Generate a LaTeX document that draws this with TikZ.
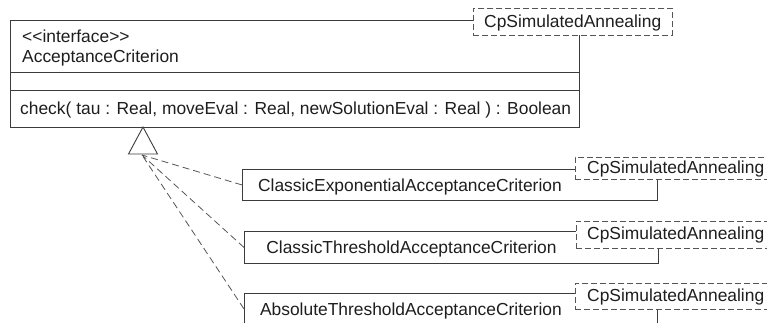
\documentclass[tikz,border=0pt]{standalone}
\usepackage{fontspec}
\setmainfont{Liberation Sans}
\usetikzlibrary{calc}
\definecolor{linegray}{HTML}{3C3C3C}
\definecolor{dashgray}{HTML}{555555}
\definecolor{inkgray}{HTML}{1E1E1E}
\begin{document}
\begin{tikzpicture}[x=1pt,y=-1pt,
  every node/.style={font=\fontsize{17.4}{20}\selectfont, text=inkgray, inner sep=0pt},
  umlbox/.style={draw=linegray, line width=0.9pt, fill=white, anchor=north west},
  pkgtag/.style={draw=dashgray, line width=0.9pt, dash pattern=on 6pt off 3pt, fill=white, anchor=north west},
  realize/.style={draw=dashgray, line width=0.8pt, dash pattern=on 7pt off 4pt},
  genhead/.style={draw=linegray, line width=0.9pt, fill=white}]
\useasboundingbox (0,0) rectangle (767,322);
\begin{scope}
\clip (0,0) rectangle (767,322);

% interface with its three compartments
\node[umlbox, minimum width=569pt, minimum height=107pt] (iface) at (10,20) {};
\draw[linegray, line width=0.9pt] ($(iface.north west)+(0,52)$) coordinate (s1) -- (s1 -| iface.east);
\draw[linegray, line width=0.9pt] ($(iface.north west)+(0,70)$) coordinate (s2) -- (s2 -| iface.east);
\node[anchor=base west] (stereo) at (22,42) {<\kern0pt<interface>\kern0pt>};
\node[anchor=base west] (iname) at (22,62) {AcceptanceCriterion};
\node[anchor=base west] (op) at (20,114) {check( tau : Real, moveEval : Real, newSolutionEval : Real ) : Boolean};
\node[pkgtag, minimum width=199pt, minimum height=27pt] (tag0) at (473,8) {};
\node (tag0t) at ($(tag0.west)+(11,1)$) [anchor=west] {CpSimulatedAnnealing};

% implementing classes
\node[umlbox, minimum width=415pt, minimum height=31pt] (c1) at (242,169) {};
\node (c1t) at ($(c1.center)+(-40,2)$) {ClassicExponentialAcceptanceCriterion};
\node[pkgtag, minimum width=205pt, minimum height=22pt] (tag1) at (575,157) {};
\node (tag1t) at ($(tag1.west)+(12,0.5)$) [anchor=west] {CpSimulatedAnnealing};

\node[umlbox, minimum width=414pt, minimum height=32pt] (c2) at (244,231) {};
\node (c2t) at ($(c2.center)+(-40,2)$) {ClassicThresholdAcceptanceCriterion};
\node[pkgtag, minimum width=205pt, minimum height=27pt] (tag2) at (576,221) {};
\node (tag2t) at ($(tag2.west)+(11,0.5)$) [anchor=west] {CpSimulatedAnnealing};

\node[umlbox, minimum width=413pt, minimum height=31pt] (c3) at (244,293) {};
\node (c3t) at ($(c3.center)+(-40,2)$) {AbsoluteThresholdAcceptanceCriterion};
\node[pkgtag, minimum width=205pt, minimum height=26pt] (tag3) at (575,283) {};
\node (tag3t) at ($(tag3.west)+(12,0.5)$) [anchor=west] {CpSimulatedAnnealing};

% generalization head and realization connectors
\coordinate (apex) at (143,127);
\coordinate (gbase) at (143,154);
\draw[genhead] (apex) -- ($(gbase)+(-14.5,0)$) -- ($(gbase)+(14.5,0)$) -- cycle;
\draw[realize] (c1.west) -- ($(gbase)+(-1,1)$);
\draw[realize] (c2.west) -- ($(gbase)+(-1,1)$);
\draw[realize] (c3.west) -- ($(gbase)+(-1,1)$);
\end{scope}
\end{tikzpicture}
\end{document}
